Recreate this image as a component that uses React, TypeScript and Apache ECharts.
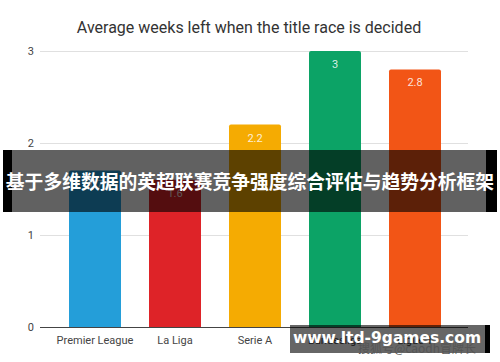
import React, { useEffect, useRef } from "react";
import * as echarts from "echarts";

const categories = ["Premier League", "La Liga", "Serie A", "Bundesliga", "Ligue 1"];
const values = [1.7, 1.6, 2.2, 3, 2.8];
const barColors = ["#249ed9", "#de2328", "#f5ab02", "#0ca366", "#f25516"];
const yTicks = [0, 1, 2, 3];
const titleText = "Average weeks left when the title race is decided";
const bannerText = "基于多维数据的英超联赛竞争强度综合评估与趋势分析框架";
const siteText = "www.ltd-9games.com";
const sohuText = "搜狐号@caodh冒牌长";

export default function App() {
  const ref = useRef<HTMLDivElement>(null);
  useEffect(() => {
    if (!ref.current) return;
    const chart = echarts.init(ref.current, null, { renderer: "svg" });
    const yMax = yTicks[yTicks.length - 1];
    chart.setOption({
      animation: false,
      backgroundColor: "#ffffff",
      title: {
        text: titleText,
        left: 244,
        top: 14,
        textAlign: "center",
        textStyle: { fontFamily: "Roboto", fontSize: 16, fontWeight: "normal", color: "#333" },
      },
      grid: [
        { left: 40, right: 32, top: 51, bottom: 35 },
        { left: 55, right: 45, top: 51, bottom: 35 },
      ],
      xAxis: [
        {
          gridIndex: 0,
          type: "value",
          show: false,
        },
        {
          gridIndex: 1,
          type: "category",
          data: categories,
          axisLine: { show: false },
          axisTick: { show: false },
          axisLabel: { color: "#444", fontFamily: "Roboto", fontSize: 11, margin: 8, interval: 0 },
        },
      ],
      yAxis: [
        {
          gridIndex: 0,
          type: "value",
          min: 0,
          max: yMax,
          interval: 1,
          axisLine: { show: false },
          axisTick: { show: false },
          axisLabel: { color: "#444", fontFamily: "Roboto", fontSize: 11, margin: 6 },
          splitLine: { lineStyle: { color: "#e0e0e0", width: 1 } },
        },
        {
          gridIndex: 1,
          type: "value",
          min: 0,
          max: yMax,
          interval: 1,
          show: false,
          splitLine: { show: false },
        },
      ],
      series: [
        {
          type: "line",
          xAxisIndex: 0,
          yAxisIndex: 0,
          data: [],
          markLine: {
            silent: true,
            symbol: "none",
            label: { show: false },
            lineStyle: { color: "#444", width: 1, type: "solid" },
            data: [{ yAxis: 0 }],
          },
        },
        {
          type: "bar",
          xAxisIndex: 1,
          yAxisIndex: 1,
          barWidth: 52,
          data: values.map((v, i) => ({
            value: v,
            itemStyle: { color: barColors[i], borderRadius: [2, 2, 0, 0] },
          })),
          label: {
            show: true,
            position: "insideTop",
            distance: 8,
            color: "rgba(255,255,255,0.85)",
            fontFamily: "Roboto",
            fontSize: 11,
          },
          z: 3,
        },
      ],
      graphic: [
        { type: "rect", shape: { x: 3, y: 150, width: 494, height: 62 }, style: { fill: "rgba(0,0,0,0.62)" }, z: 100 },
        { type: "rect", shape: { x: 3, y: 150, width: 9, height: 62 }, style: { fill: "#000" }, z: 100 },
        { type: "rect", shape: { x: 486, y: 150, width: 11, height: 62 }, style: { fill: "#000" }, z: 100 },
        {
          type: "text",
          x: 250,
          y: 180,
          z: 101,
          style: {
            text: bannerText,
            fill: "#fff",
            fontFamily: "Noto Sans CJK SC",
            fontSize: 18.8,
            fontWeight: "bold",
            align: "center",
            verticalAlign: "middle",
          },
        },
        { type: "rect", shape: { x: 290, y: 325, width: 195, height: 28 }, style: { fill: "rgba(0,0,0,0.6)" }, z: 100 },
        { type: "rect", shape: { x: 485, y: 325, width: 5, height: 28 }, style: { fill: "#000" }, z: 100 },
        {
          type: "text",
          x: 358,
          y: 353,
          z: 100,
          style: {
            text: sohuText,
            fill: "#555",
            fontFamily: "Noto Sans CJK SC",
            fontSize: 12,
            align: "left",
            verticalAlign: "bottom",
          },
        },
        {
          type: "text",
          x: 387,
          y: 338,
          z: 101,
          style: {
            text: siteText,
            fill: "#fff",
            fontFamily: "DejaVu Sans",
            fontSize: 15.5,
            fontWeight: "bold",
            align: "center",
            verticalAlign: "middle",
          },
        },
      ],
    });
    return () => chart.dispose();
  }, []);
  return <div ref={ref} style={{ width: 500, height: 362, position: "absolute", left: 0, top: 0 }} />;
}
